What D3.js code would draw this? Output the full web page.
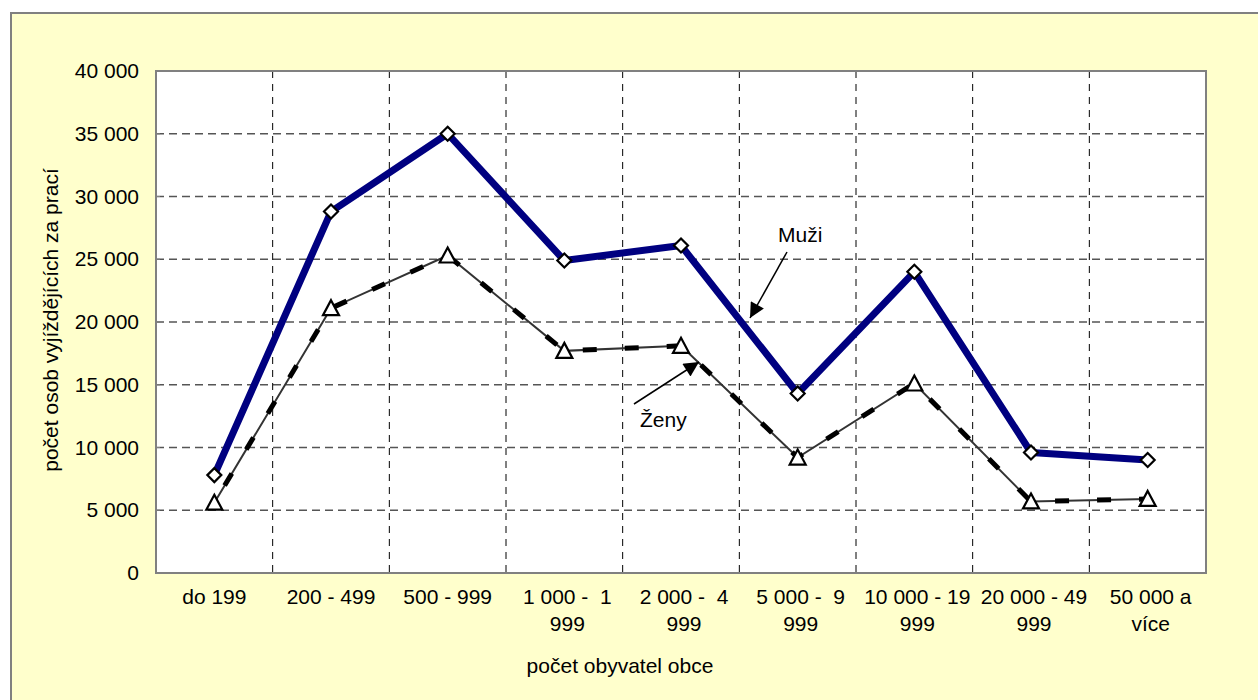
<!DOCTYPE html>
<html>
<head>
<meta charset="utf-8">
<script src="https://cdn.jsdelivr.net/npm/d3@7"></script>
<style>
  body { margin: 0; background: #fff; }
  svg text { font-family: "Liberation Sans", Arial, sans-serif; fill: #000; }
</style>
</head>
<body>
<div id="graf"></div>
<script>
// data
var kategorie = ["do 199", "200 - 499", "500 - 999", "1 000 - 1 999", "2 000 - 4 999",
  "5 000 - 9 999", "10 000 - 19 999", "20 000 - 49 999", "50 000 a více"];
var radkyPopisku = [["do 199"], ["200 - 499"], ["500 - 999"], ["1 000 -  1", "999"], ["2 000 -  4", "999"],
  ["5 000 -  9", "999"], ["10 000 - 19", "999"], ["20 000 - 49", "999"], ["50 000 a", "více"]];
var muzi = [7800, 28800, 35000, 24900, 26100, 14300, 24000, 9600, 9000];
var zeny = [5600, 21100, 25300, 17700, 18100, 9200, 15100, 5700, 5900];
var yTicks = [0, 5000, 10000, 15000, 20000, 25000, 30000, 35000, 40000];

var width = 1258, height = 700;
var margin = { top: 71, right: 52, bottom: 127, left: 156 };
var chartWidth = width - margin.left - margin.right;
var chartHeight = height - margin.top - margin.bottom;
var fontSize = "21px";

var svg = d3.select("#graf").append("svg")
  .attr("width", width)
  .attr("height", height);

// pozadi a ramecek
svg.append("rect")
  .attr("x", 11).attr("y", 13)
  .attr("width", 1262).attr("height", 700)
  .attr("fill", "#FFFFCC")
  .attr("stroke", "#808080")
  .attr("stroke-width", 2);

var chartGroup = svg.append("g")
  .attr("transform", `translate(${margin.left}, ${margin.top})`);

chartGroup.append("rect")
  .attr("width", chartWidth).attr("height", chartHeight)
  .attr("fill", "#fff");

var xScale = d3.scaleBand().domain(kategorie).range([0, chartWidth]);
var yScale = d3.scaleLinear().domain([0, 40000]).range([chartHeight, 0]);
var xc = d => xScale(d) + xScale.bandwidth() / 2;

// mrizka vodorovna
chartGroup.selectAll(".hgrid").data(yTicks.slice(1, -1)).enter().append("line")
  .attr("x1", 0).attr("x2", chartWidth)
  .attr("y1", d => yScale(d)).attr("y2", d => yScale(d))
  .attr("stroke", "#555").attr("stroke-width", 1.5)
  .attr("stroke-dasharray", "8,5");

// mrizka svisla
chartGroup.selectAll(".vgrid").data(kategorie.slice(1)).enter().append("line")
  .attr("x1", d => xScale(d)).attr("x2", d => xScale(d))
  .attr("y1", 0).attr("y2", chartHeight)
  .attr("stroke", "#000").attr("stroke-width", 1)
  .attr("stroke-dasharray", "7,6");

chartGroup.append("rect")
  .attr("width", chartWidth).attr("height", chartHeight)
  .attr("fill", "none").attr("stroke", "#808080").attr("stroke-width", 2);

// osa y
var leftAxis = d3.axisLeft(yScale).tickValues(yTicks).tickSize(0).tickPadding(17)
  .tickFormat(d => d3.format(",")(d).replace(/,/g, " "));
var gy = chartGroup.append("g").call(leftAxis);
gy.attr("font-size", null).attr("font-family", null);
gy.select(".domain").remove();
gy.selectAll("text").style("font-size", fontSize);

chartGroup.selectAll(".ytick").data(yTicks).enter().append("line")
  .attr("x1", 0).attr("x2", 4)
  .attr("y1", d => yScale(d)).attr("y2", d => yScale(d))
  .attr("stroke", "#808080");

// popisky x
var lab = chartGroup.selectAll(".xlab").data(kategorie).enter().append("text")
  .attr("text-anchor", "middle")
  .attr("x", d => xc(d))
  .attr("y", chartHeight + 31)
  .attr("xml:space", "preserve")
  .style("font-size", fontSize);
lab.each(function (d, i) {
  var rady = radkyPopisku[i];
  d3.select(this).selectAll("tspan").data(rady).enter().append("tspan")
    .attr("x", xc(d) + (rady.length > 1 ? 3 : 0))
    .attr("dy", (t, j) => j == 0 ? 0 : 27)
    .style("white-space", "pre")
    .text(t => t);
});

// nazvy os
svg.append("text")
  .attr("x", 620).attr("y", 673)
  .attr("text-anchor", "middle").style("font-size", fontSize)
  .text("počet obyvatel obce");
svg.append("text")
  .attr("transform", "translate(58, 320) rotate(-90)")
  .attr("text-anchor", "middle").style("font-size", fontSize)
  .text("počet osob vyjíždějících za prací");

// linky
var drawLine = d3.line()
  .x((d, i) => xc(kategorie[i]))
  .y(d => yScale(d));

chartGroup.append("path")
  .attr("d", drawLine(zeny))
  .attr("fill", "none").attr("stroke", "#333").attr("stroke-width", 2);
chartGroup.append("path")
  .attr("d", drawLine(zeny))
  .attr("fill", "none").attr("stroke", "#000").attr("stroke-width", 5)
  .attr("stroke-dasharray", "14,28").attr("stroke-dashoffset", -20);

chartGroup.append("path")
  .attr("d", drawLine(muzi))
  .attr("fill", "none").attr("stroke", "#000080").attr("stroke-width", 7)
  .attr("stroke-linejoin", "round");

// znacky
chartGroup.selectAll(".tri").data(zeny).enter().append("path")
  .attr("d", "M0,-8L8,7L-8,7Z")
  .attr("transform", (d, i) => `translate(${xc(kategorie[i])}, ${yScale(d)})`)
  .attr("fill", "#fff").attr("stroke", "#000").attr("stroke-width", 2.2);

chartGroup.selectAll(".dia").data(muzi).enter().append("path")
  .attr("d", "M0,-7L7,0L0,7L-7,0Z")
  .attr("transform", (d, i) => `translate(${xc(kategorie[i])}, ${yScale(d)})`)
  .attr("fill", "#fff").attr("stroke", "#000").attr("stroke-width", 2.2);

// popisky serii se sipkami
svg.append("defs").append("marker")
  .attr("id", "sipka").attr("viewBox", "0 0 10 10")
  .attr("refX", 10).attr("refY", 5)
  .attr("markerWidth", 17).attr("markerHeight", 15)
  .attr("markerUnits", "userSpaceOnUse")
  .attr("orient", "auto")
  .append("path").attr("d", "M0,0L10,5L0,10Z").attr("fill", "#000");

svg.append("text").attr("x", 778).attr("y", 242).style("font-size", fontSize).text("Muži");
svg.append("line").attr("x1", 787).attr("y1", 252).attr("x2", 750).attr("y2", 318)
  .attr("stroke", "#000").attr("stroke-width", 1.5).attr("marker-end", "url(#sipka)");

svg.append("text").attr("x", 640).attr("y", 427).style("font-size", fontSize).text("Ženy");
svg.append("line").attr("x1", 634).attr("y1", 404).attr("x2", 699).attr("y2", 362)
  .attr("stroke", "#000").attr("stroke-width", 1.5).attr("marker-end", "url(#sipka)");
</script>
</body>
</html>
